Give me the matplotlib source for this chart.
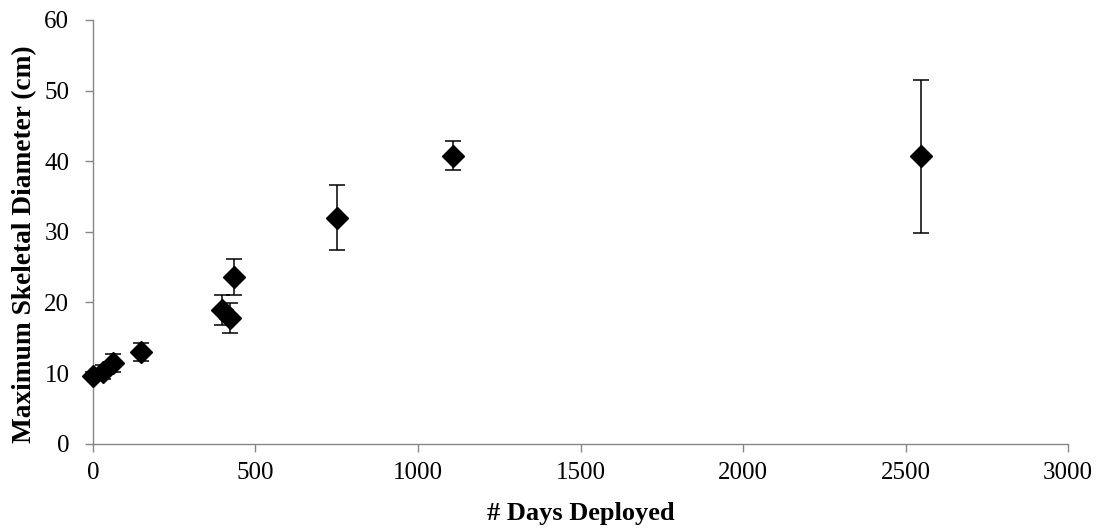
import matplotlib
matplotlib.use("Agg")
import matplotlib.pyplot as plt

# Coral colony growth: maximum skeletal diameter vs. time deployed
days_deployed = [0, 30, 62, 148, 396, 421, 434, 750, 1109, 2547]
max_diameter_cm = [9.6, 10.2, 11.4, 13.0, 18.9, 17.8, 23.6, 32.0, 40.8, 40.7]
diameter_err_cm = [0.5, 1.0, 1.3, 1.3, 2.1, 2.1, 2.5, 4.6, 2.1, 10.8]

x_ticks = [0, 500, 1000, 1500, 2000, 2500, 3000]
y_ticks = [0, 10, 20, 30, 40, 50, 60]

plt.rcParams["font.family"] = ["Liberation Serif", "DejaVu Serif"]

fig = plt.figure(figsize=(11.03, 5.29), dpi=100)
ax = fig.add_axes([0.0843, 0.1612, 0.884, 0.801])

container = ax.errorbar(days_deployed, max_diameter_cm, yerr=diameter_err_cm,
                        fmt="D", color="black", markersize=11, ecolor="black",
                        elinewidth=1.1, capsize=6, capthick=1.1, zorder=3)
# let the marker sitting on the y axis show in full
for artist in container.get_children():
    artist.set_clip_on(False)

ax.set_xlim(0, 3000)
ax.set_ylim(0, 60)
ax.set_xticks(x_ticks)
ax.set_yticks(y_ticks)

for side in ("top", "right"):
    ax.spines[side].set_visible(False)
for side in ("left", "bottom"):
    ax.spines[side].set_color("#868686")
    ax.spines[side].set_linewidth(1.0)
    ax.spines[side].set_zorder(1)

ax.tick_params(axis="both", direction="out", length=6, width=1.0,
               color="#868686", labelsize=18, labelcolor="black")
ax.tick_params(axis="x", pad=7)
ax.tick_params(axis="y", pad=11)

ax.set_xlabel("# Days Deployed", fontsize=19, fontweight="bold", labelpad=13)
ax.set_ylabel("Maximum Skeletal Diameter (cm)", fontsize=19.7,
              fontweight="bold", labelpad=5)
ax.yaxis.label.set_y(0.47)

fig.savefig("out.png", dpi=100)
